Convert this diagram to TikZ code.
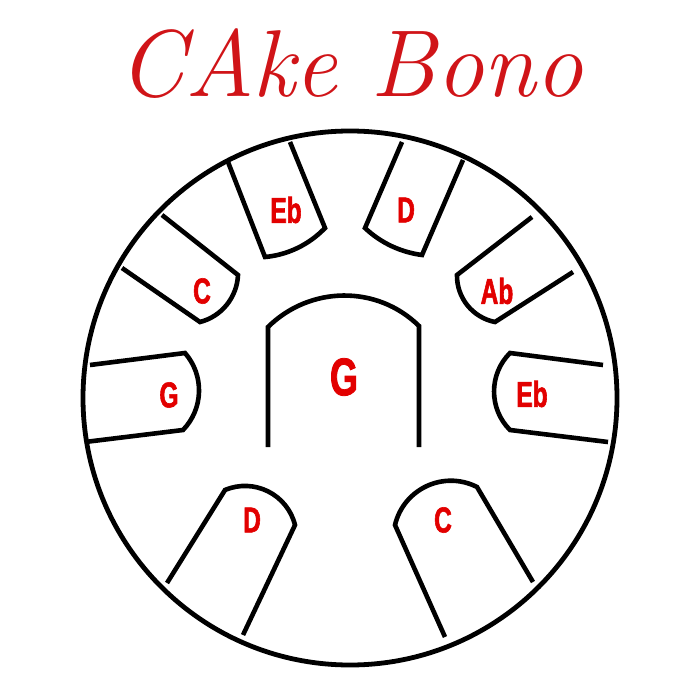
\documentclass[tikz,border=0pt]{standalone}
\usepackage{fontspec}
\newfontfamily\labfont[FakeStretch=0.68,FakeBold=1.6]{Liberation Sans}
\definecolor{labred}{RGB}{226,0,0}
\definecolor{titlered}{RGB}{208,20,24}
\tikzset{
  padline/.style={draw=black, line width=4.6pt},
  rim/.style={draw=black, line width=4.8pt},
  note/.style={text=labred, font=\labfont\bfseries\fontsize{36}{36}\selectfont, inner sep=0pt},
  bignote/.style={text=labred, font=\labfont\bfseries\fontsize{53}{53}\selectfont, inner sep=0pt},
  titletext/.style={text=titlered, font=\itshape\fontsize{95}{95}\selectfont, inner sep=0pt}
}
\begin{document}
\begin{tikzpicture}[x=1pt,y=-1pt]
\useasboundingbox (0,0) rectangle (700,700);
% title
\node[titletext, anchor=base] (title) at (351,97) {CAke Bono};
% rim
\draw[rim] (350,398) circle[radius=267];
% central G
\draw[padline] (268,447) -- (268,327) .. controls (309.9,285.7) and (377.1,284.7) .. (419,326) -- (419,447);
% Eb top-left
\draw[padline] (228,162) -- (265,257) .. controls (287.9,254.9) and (309.1,244.6) .. (325,228) -- (290,142);
% C top-left
\draw[padline] (162,215) -- (238,275) .. controls (237.0,297.3) and (221.6,316.5) .. (200,322) -- (122,268);
% G left
\draw[padline] (90,365) -- (185,353) .. controls (204.4,375.3) and (203.6,408.7) .. (183,430) -- (85,442);
% D bottom-left
\draw[padline] (167,583) -- (225,490) .. controls (254.0,477.7) and (287.4,494.3) .. (295,525) -- (243,635);
% D top-right
\draw[padline] (402,142) -- (365,228) .. controls (380.6,242.8) and (400.6,252.2) .. (422,255) -- (463,160);
% Ab
\draw[padline] (532,217) -- (457,275) .. controls (456.6,297.8) and (472.6,317.6) .. (495,322) -- (573,272);
% Eb right
\draw[padline] (603,365) -- (510,353) .. controls (488.7,374.2) and (488.7,408.8) .. (510,430) -- (608,442);
% C bottom-right
\draw[padline] (445,637) -- (395,525) .. controls (403.6,488.7) and (443.8,470.1) .. (477,487) -- (533,582);
% labels
\node[bignote] (gc) at (344,377) {G};
\node[note] (ebtl) at (286,210) {Eb};
\node[note] (ctl) at (202,291) {C};
\node[note] (gl) at (169,395) {G};
\node[note] (dbl) at (252,520) {D};
\node[note] (dtr) at (406,210) {D};
\node[note] (ab) at (497,291) {Ab};
\node[note] (ebr) at (532,394) {Eb};
\node[note] (cbr) at (443,520) {C};
\end{tikzpicture}
\end{document}
